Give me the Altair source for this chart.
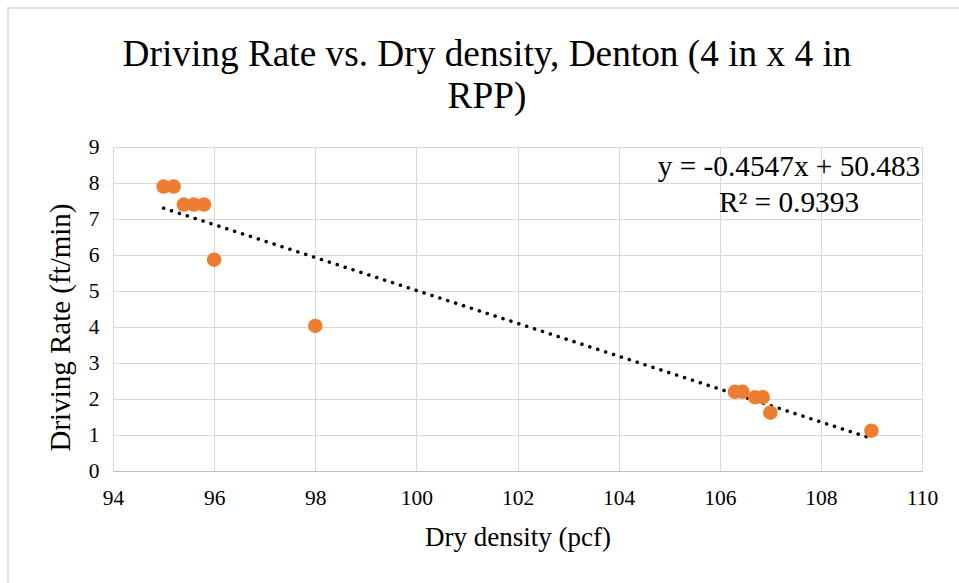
import altair as alt
import pandas as pd

# Data
dry_density = [95.0, 95.2, 95.4, 95.6, 95.8, 96.0, 98.0, 106.3, 106.45, 106.7, 106.85, 107.0, 109.0]
driving_rate = [7.9, 7.9, 7.4, 7.4, 7.4, 5.87, 4.03, 2.2, 2.2, 2.05, 2.05, 1.62, 1.12]
x_ticks = [94, 96, 98, 100, 102, 104, 106, 108, 110]
y_ticks = [0, 1, 2, 3, 4, 5, 6, 7, 8, 9]
eq_lines = ["y = -0.4547x + 50.483", "R² = 0.9393"]
title_lines = ["Driving Rate vs. Dry density, Denton (4 in x 4 in", "RPP)"]

df = pd.DataFrame({"x": dry_density, "y": driving_rate})
one = pd.DataFrame({"a": [0]})

FONT = "Liberation Serif"
GRID = "#d9d9d9"

xscale = alt.Scale(domain=[94, 110], nice=False, zero=False)
yscale = alt.Scale(domain=[0, 9], nice=False, zero=True)

xaxis = alt.Axis(values=x_ticks, title="Dry density (pcf)", grid=True, gridColor=GRID,
                 ticks=False, domainColor="#bfbfbf", labelFontSize=21.5, labelFont=FONT,
                 labelColor="#000000", labelPadding=16, labelFlush=False,
                 titleFont=FONT, titleFontSize=27,
                 titleFontWeight="normal", titleColor="#000000", titlePadding=16)
yaxis = alt.Axis(values=y_ticks, title="Driving Rate (ft/min)", grid=True, gridColor=GRID,
                 ticks=False, domainColor=GRID, labelFontSize=21.5, labelFont=FONT,
                 labelColor="#000000", labelPadding=14, labelFlush=False,
                 titleFont=FONT, titleFontSize=29,
                 titleFontWeight="normal", titleColor="#000000", titlePadding=13,
                 titleY=180)

border = alt.Chart(one).mark_rect(
    fill=None, stroke="#d9d9d9", strokeWidth=1.5
).encode(x=alt.value(-105), y=alt.value(-139), x2=alt.value(870), y2=alt.value(460))

points = alt.Chart(df).mark_circle(size=210, opacity=1, color="#ED7D31").encode(
    x=alt.X("x:Q", scale=xscale, axis=xaxis),
    y=alt.Y("y:Q", scale=yscale, axis=yaxis),
)

trend = alt.Chart(df).transform_regression("x", "y").mark_line(
    color="#000000", strokeWidth=3.5, strokeDash=[0.1, 8.2], strokeCap="round"
).encode(x=alt.X("x:Q", scale=xscale, axis=xaxis), y=alt.Y("y:Q", scale=yscale, axis=yaxis))


def text_layer(txt, px, py, size):
    return alt.Chart(one).mark_text(
        font=FONT, fontSize=size, color="#000000", align="center", baseline="alphabetic",
        text=txt,
    ).encode(x=alt.value(px), y=alt.value(py))


eq1 = text_layer(eq_lines[0], 676, 29, 29.3)
eq2 = text_layer(eq_lines[1], 676, 65, 29.3)
t1 = text_layer(title_lines[0], 374, -81, 37.3)
t2 = text_layer(title_lines[1], 374, -39, 37.3)

chart = alt.layer(border, trend, points, eq1, eq2, t1, t2).properties(
    width=809,
    height=324,
    autosize=alt.AutoSizeParams(type="none"),
    padding={"left": 113, "top": 147, "right": 37, "bottom": 112},
).configure_view(stroke=None).configure(background="#ffffff")

chart.save("out.html", embed_options={"renderer": "svg", "actions": False})
